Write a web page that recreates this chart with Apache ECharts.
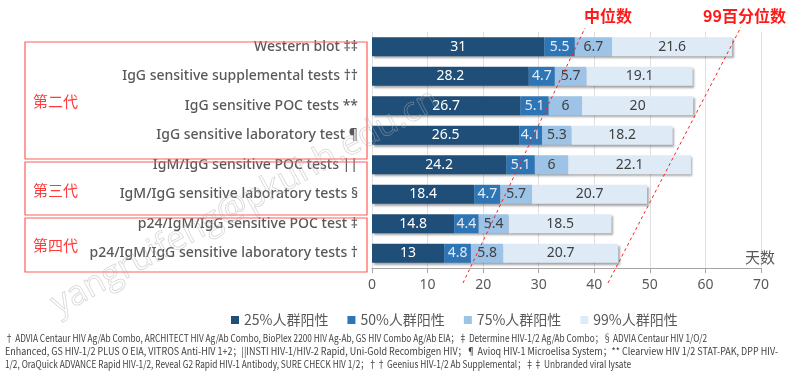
<!DOCTYPE html>
<html>
<head>
<meta charset="utf-8">
<script src="https://cdn.jsdelivr.net/npm/echarts@6/dist/echarts.min.js"></script>
<style>
html,body{margin:0;padding:0;background:#fff;}
#main{width:800px;height:371px;}
</style>
</head>
<body>
<div id="main"></div>
<script>
const categories = [
  'Western blot ‡‡',
  'IgG sensitive supplemental tests ††',
  'IgG sensitive POC tests **',
  'IgG sensitive laboratory test ¶',
  'IgM/IgG sensitive POC tests ||',
  'IgM/IgG sensitive laboratory tests §',
  'p24/IgM/IgG sensitive POC test ‡',
  'p24/IgM/IgG sensitive laboratory tests †'
];
const seriesNames = ['25%人群阳性', '50%人群阳性', '75%人群阳性', '99%人群阳性'];
const p25 = [31, 28.2, 26.7, 26.5, 24.2, 18.4, 14.8, 13];
const p50 = [5.5, 4.7, 5.1, 4.1, 5.1, 4.7, 4.4, 4.8];
const p75 = [6.7, 5.7, 6, 5.3, 6, 5.7, 5.4, 5.8];
const p99 = [21.6, 19.1, 20, 18.2, 22.1, 20.7, 18.5, 20.7];
const xTicks = [0, 10, 20, 30, 40, 50, 60, 70];
const generations = ['第二代', '第三代', '第四代'];
const footnotes = [
  '† ADVIA Centaur HIV Ag/Ab Combo, ARCHITECT HIV Ag/Ab Combo, BioPlex 2200 HIV Ag-Ab, GS HIV Combo Ag/Ab EIA；‡ Determine HIV-1/2 Ag/Ab Combo；§ ADVIA Centaur HIV 1/O/2',
  'Enhanced, GS HIV-1/2 PLUS O EIA, VITROS Anti-HIV 1+2；||INSTI HIV-1/HIV-2 Rapid, Uni-Gold Recombigen HIV；¶ Avioq HIV-1 Microelisa System；** Clearview HIV 1/2 STAT-PAK, DPP HIV-',
  '1/2, OraQuick ADVANCE Rapid HIV-1/2, Reveal G2 Rapid HIV-1 Antibody, SURE CHECK HIV 1/2；†† Geenius HIV-1/2 Ab Supplemental；‡‡ Unbranded viral lysate'
];

const colors = ['#1f4e79', '#2e75b6', '#9dc3e6', '#deebf7'];
const labelColors = ['#ffffff', '#e3ebf5', '#404040', '#404040'];
const values = [p25, p50, p75, p99];
const FONT = '"Noto Sans CJK SC", "Noto Sans", sans-serif';
const LATIN = '"Noto Sans", "Noto Sans CJK SC", sans-serif';

const footTargets = [702, 773, 626];
const cv = document.createElement('canvas').getContext('2d');
const footFont = '10px "Noto Sans CJK SC", sans-serif';
cv.font = footFont;

const chart = echarts.init(document.getElementById('main'), null, {renderer: 'canvas'});

const series = values.map((v, i) => ({
  name: seriesNames[i],
  type: 'bar',
  stack: 'total',
  data: v,
  barWidth: 19,
  itemStyle: {
    color: colors[i],
    shadowColor: 'rgba(0,0,0,0.35)',
    shadowBlur: 2,
    shadowOffsetX: 1.5,
    shadowOffsetY: 2
  },
  label: {
    show: true,
    position: 'inside',
    color: labelColors[i],
    fontSize: 14,
    fontFamily: LATIN,
    formatter: '{c}'
  },
  emphasis: {disabled: true}
}));

const graphics = [];
const boxes = [[25, 42, 342, 117], [25, 162, 342, 53], [25, 218, 342, 54]];
const genY = [101, 190, 245];
boxes.forEach((b, i) => {
  graphics.push({type: 'rect', shape: {x: b[0], y: b[1], width: b[2], height: b[3]},
    style: {fill: 'none', stroke: '#ff5c5c', lineWidth: 1.2}, z: 10});
  graphics.push({type: 'text', x: 33, y: genY[i],
    style: {text: generations[i], fill: '#ff3b3b', fontSize: 15, fontFamily: FONT, textVerticalAlign: 'middle'}, z: 10});
});
graphics.push({type: 'line', shape: {x1: 463, y1: 283, x2: 585, y2: 28},
  style: {stroke: '#ff2020', lineWidth: 1, lineDash: [3, 3]}, z: 20});
graphics.push({type: 'line', shape: {x1: 608, y1: 283, x2: 741, y2: 27},
  style: {stroke: '#ff2020', lineWidth: 1, lineDash: [3, 3]}, z: 20});
graphics.push({type: 'text', x: 584, y: 16,
  style: {text: '中位数', fill: '#ff1a1a', fontSize: 16, fontWeight: 'bold', fontFamily: FONT, textVerticalAlign: 'middle'}, z: 20});
graphics.push({type: 'text', x: 703, y: 16,
  style: {text: '99百分位数', fill: '#ff1a1a', fontSize: 16, fontWeight: 'bold', fontFamily: FONT, textVerticalAlign: 'middle'}, z: 20});
graphics.push({type: 'text', x: 745, y: 257,
  style: {text: '天数', fill: '#595959', fontSize: 15, fontFamily: FONT, textVerticalAlign: 'middle'}, z: 20});
const footY = [338, 351, 364];
footnotes.forEach((t, i) => {
  const w = cv.measureText(t).width;
  graphics.push({type: 'text', x: 5, y: footY[i], scaleX: footTargets[i] / w, originX: 0,
    style: {text: t, fill: '#404040', font: footFont, textVerticalAlign: 'middle'}, z: 20});
});
// watermark
graphics.push({type: 'text', x: 62, y: 322, rotation: 0.5,
  style: {text: 'yangruifeng@pkuhh.edu.cn', fill: 'rgba(255,255,255,0)', stroke: 'rgba(175,175,175,0.5)', lineWidth: 0.8,
    fontSize: 34, fontFamily: '"Open Sans", sans-serif', textVerticalAlign: 'bottom'}, z: 30, silent: true});

chart.setOption({
  animation: false,
  backgroundColor: '#ffffff',
  grid: {left: 372, right: 39, top: 32, bottom: 103, containLabel: false},
  legend: {
    data: seriesNames,
    top: 308,
    left: 226,
    itemWidth: 8,
    itemHeight: 8,
    itemGap: 19,
    icon: 'rect',
    textStyle: {color: '#595959', fontSize: 14, fontFamily: FONT}
  },
  xAxis: {
    type: 'value',
    min: 0,
    max: 70,
    interval: 10,
    axisLine: {show: true, lineStyle: {color: '#a6a6a6', width: 1}},
    axisTick: {show: true, length: 5, lineStyle: {color: '#a6a6a6'}},
    splitLine: {show: true, lineStyle: {color: '#e0e0e0'}},
    axisLabel: {color: '#595959', fontSize: 14, fontFamily: LATIN, margin: 10,
      formatter: v => xTicks.includes(v) ? String(v) : ''}
  },
  yAxis: {
    type: 'category',
    data: categories,
    inverse: true,
    axisLine: {show: false},
    axisTick: {show: false},
    axisLabel: {color: '#595959', fontSize: 14, fontWeight: 500, fontFamily: LATIN, margin: 14}
  },
  series: series,
  graphic: graphics
});
</script>
</body>
</html>
